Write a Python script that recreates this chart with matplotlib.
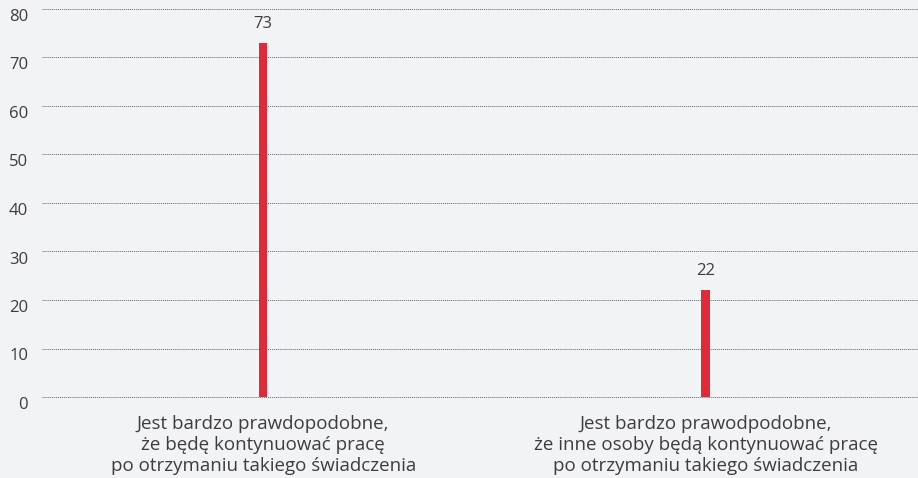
import matplotlib.pyplot as plt
from matplotlib.transforms import offset_copy

# dane
kategorie = ["Jest bardzo prawdopodobne,\nże będę kontynuować pracę\npo otrzymaniu takiego świadczenia",
             "Jest bardzo prawodpodobne,\nże inne osoby będą kontynuować pracę\npo otrzymaniu takiego świadczenia"]
wartosci = [73, 22]
osie_y = [0, 10, 20, 30, 40, 50, 60, 70, 80]

tlo = "#f2f3f5"
czerwony = "#e02a38"
tekst = "#3d3d3d"

plt.rcParams['font.family'] = ['Open Sans', 'DejaVu Sans']

fig = plt.figure(figsize=(9.18, 4.78), dpi=100, facecolor=tlo)
ax = fig.add_axes([42/918, 81/478, 1 - 42/918, 388/478], facecolor=tlo)

x = list(range(len(wartosci)))
ax.bar(x, wartosci, width=0.019, color=czerwony, zorder=3)

ax.set_xlim(-0.5, 1.48)
ax.set_ylim(0, 80)

# linie siatki kropkowane
for v in osie_y:
    ax.axhline(v, color="#666666", lw=0.7, ls=(0, (1, 1)), zorder=1, clip_on=False)

# etykiety osi Y, lekko pod liniami
trans = offset_copy(ax.get_yaxis_transform(), fig=fig, x=-10, y=0, units='points')
for v in osie_y:
    ax.text(0, v, str(v), transform=trans, ha='right', va='top',
            fontsize=12, color=tekst)

# wartości nad słupkami
for xi, w in zip(x, wartosci):
    ax.annotate(str(w), (xi, w), xytext=(0, 8), textcoords='offset points',
                ha='center', va='bottom', fontsize=12, color=tekst)

# podpisy kategorii
for xi, k in zip(x, kategorie):
    ax.annotate(k, (xi, 0), xytext=(0, -13), textcoords='offset points',
                ha='center', va='top', fontsize=13.5, color=tekst,
                linespacing=1.2, annotation_clip=False)

ax.set_xticks([])
ax.set_yticks([])
for s in ax.spines.values():
    s.set_visible(False)

fig.savefig("out.png", dpi=100, facecolor=tlo)
